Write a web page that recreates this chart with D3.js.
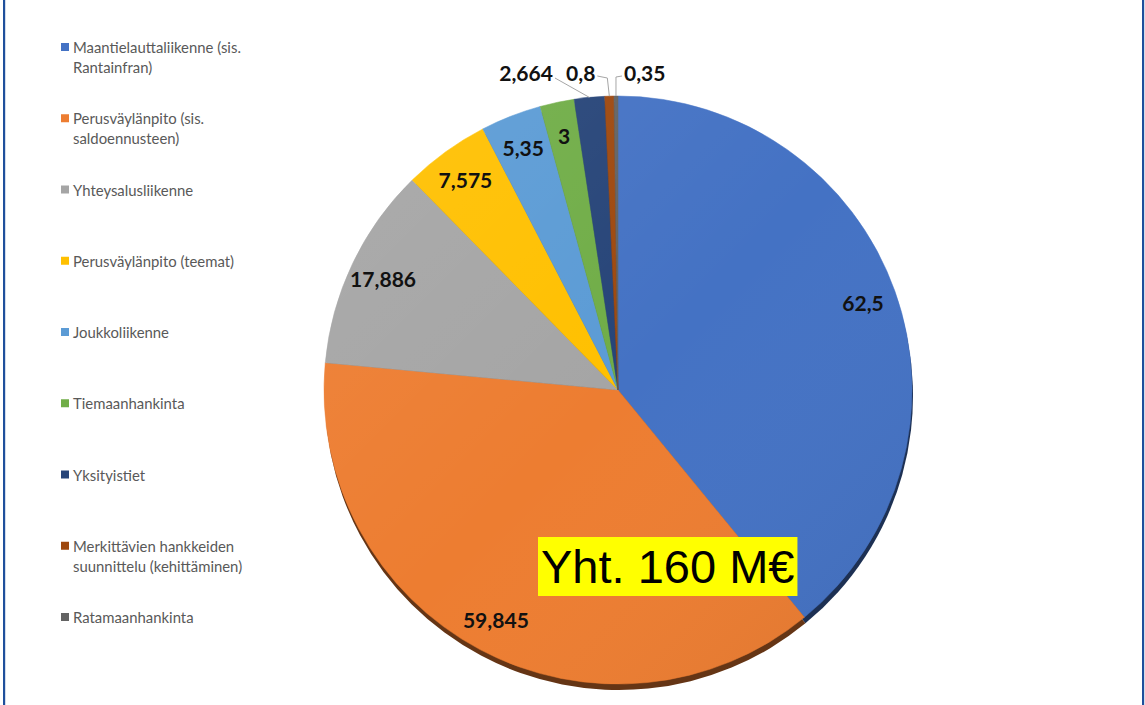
<!DOCTYPE html>
<html><head><meta charset="utf-8">
<script src="https://cdn.jsdelivr.net/npm/d3@7"></script>
<style>html,body{margin:0;padding:0;background:#fff;} svg{display:block}</style>
</head><body><svg id="chart" width="1145" height="705"></svg>
<script>
// ---- data ----
const categories = [
  "Maantielauttaliikenne (sis. Rantainfran)",
  "Perusväylänpito (sis. saldoennusteen)",
  "Yhteysalusliikenne",
  "Perusväylänpito (teemat)",
  "Joukkoliikenne",
  "Tiemaanhankinta",
  "Yksityistiet",
  "Merkittävien hankkeiden suunnittelu (kehittäminen)",
  "Ratamaanhankinta"
];
const values = [62.5, 59.845, 17.886, 7.575, 5.35, 3, 2.664, 0.8, 0.35];
const colors = ["#4472C4","#ED7D31","#A5A5A5","#FFC000","#5B9BD5","#70AD47","#264478","#9E480E","#636363"];
const totalLabel = "Yht. 160 M€";

// ---- layout ----
const W = 1145, H = 705;
const cx = 618, cy = 390, R = 294;
const svg = d3.select("#chart");
const fmt = v => String(v).replace(".", ",");
const data = categories.map((c, i) => ({name: c, value: values[i], color: colors[i]}));

// frame lines
svg.append("rect").attr("x", 3).attr("y", 0).attr("width", 2.2).attr("height", H).attr("fill", "#1f4f9c");
svg.append("rect").attr("x", 1142).attr("y", 0).attr("width", 2.2).attr("height", H).attr("fill", "#1f4f9c");

const defs = svg.append("defs");
const grad = defs.append("linearGradient").attr("id", "shade")
  .attr("x1", "0").attr("y1", "0").attr("x2", "1").attr("y2", "1");
grad.append("stop").attr("offset", "0").attr("stop-color", "#fff").attr("stop-opacity", 0.08);
grad.append("stop").attr("offset", "0.5").attr("stop-color", "#fff").attr("stop-opacity", 0);
grad.append("stop").attr("offset", "1").attr("stop-color", "#000").attr("stop-opacity", 0.07);

const pie = d3.pie().sort(null).value(d => d.value);
const arcs = pie(data);
const arc = d3.arc().innerRadius(0).outerRadius(R);

// shadow
svg.append("g").attr("transform", `translate(${cx + 1},${cy + 6})`)
  .selectAll("path").data(arcs).join("path")
  .attr("d", arc)
  .attr("fill", d => d3.color(d.data.color).darker(2.4));

// slices
const gPie = svg.append("g").attr("transform", `translate(${cx},${cy})`);
gPie.selectAll("path.slice").data(arcs).join("path")
  .attr("class", "slice")
  .attr("d", arc)
  .attr("fill", d => d.data.color)
  .attr("stroke", d => d.data.color).attr("stroke-width", 0.5);
gPie.append("circle").attr("r", R).attr("fill", "url(#shade)");

// labels
const labelFont = "Lato, 'Open Sans', sans-serif";
const probe = svg.append("text").attr("font-family", labelFont).attr("font-weight", "bold")
  .attr("font-size", 20).text("17,886");
const labelSize = 20 * 66 / probe.node().getComputedTextLength();
probe.remove();

const insideArcs = arcs.filter(d => d.endAngle - d.startAngle >= 0.11);
const outsideArcs = arcs.filter(d => d.endAngle - d.startAngle < 0.11);
const labelArc = d3.arc().innerRadius(R * 0.885).outerRadius(R * 0.885);

gPie.selectAll("text.in").data(insideArcs).join("text")
  .attr("class", "in")
  .attr("x", d => labelArc.centroid(d)[0])
  .attr("y", d => labelArc.centroid(d)[1])
  .attr("text-anchor", "middle").attr("dominant-baseline", "central")
  .attr("font-family", labelFont).attr("font-weight", "bold")
  .attr("font-size", labelSize).attr("fill", "#111")
  .text(d => fmt(d.data.value));

// outside labels: last one right of its slice, the others stacked leftwards
const edgeArc = d3.arc().innerRadius(R).outerRadius(R);
const oy = -R - 24;
let leftEdge = null;
const outside = outsideArcs.slice().reverse(); // right to left
outside.forEach((d, k) => {
  const p = edgeArc.centroid(d);
  const t = gPie.append("text")
    .attr("y", oy).attr("dominant-baseline", "central")
    .attr("font-family", labelFont).attr("font-weight", "bold")
    .attr("font-size", labelSize).attr("fill", "#111")
    .text(fmt(d.data.value));
  const w = t.node().getComputedTextLength();
  let pts;
  if (k === 0) {
    const x0 = p[0] + 8;
    t.attr("x", x0).attr("text-anchor", "start");
    pts = [[x0 - 2, oy + 4], [p[0], oy + 5], [p[0], p[1]]];
    leftEdge = x0 - 3;
  } else {
    let xe = Math.min(p[0] - 14, leftEdge - 13);
    t.attr("x", xe).attr("text-anchor", "end");
    pts = [[xe + 2, oy + 4], [p[0] - 2, oy + 6], [p[0], p[1]]];
    if (k > 1) pts = [[xe + 2, oy + 6], [p[0], p[1]]];
    leftEdge = xe - w;
  }
  gPie.append("polyline").attr("points", pts.map(q => q.join(",")).join(" "))
    .attr("fill", "none").attr("stroke", "#a6a6a6").attr("stroke-width", 1);
});

// legend
const legendFont = "Lato, 'Open Sans', sans-serif";
const probe2 = svg.append("text").attr("font-family", legendFont).attr("font-size", 13)
  .text("Maantielauttaliikenne (sis.");
const legendSize = 13 * 168 / probe2.node().getComputedTextLength();
probe2.remove();

const legend = svg.append("g");
const rowStep = 71.25, firstY = 47, maxW = 178;
data.forEach((d, i) => {
  const y = firstY + i * rowStep;
  legend.append("rect").attr("x", 61).attr("y", y - 4).attr("width", 8).attr("height", 8).attr("fill", d.color);
  const t = legend.append("text").attr("font-family", legendFont).attr("font-size", legendSize)
    .attr("fill", "#595959").attr("dominant-baseline", "central");
  const words = d.name.split(" ");
  let line = [], lineNo = 0;
  let ts = t.append("tspan").attr("x", 73).attr("y", y);
  words.forEach(wd => {
    line.push(wd);
    ts.text(line.join(" "));
    if (ts.node().getComputedTextLength() > maxW && line.length > 1) {
      line.pop(); ts.text(line.join(" "));
      line = [wd]; lineNo++;
      ts = t.append("tspan").attr("x", 73).attr("y", y + lineNo * 20).text(wd);
    }
  });
});

// total annotation
const gTot = svg.append("g");
const box = gTot.append("rect").attr("fill", "#ffff00");
const tt = gTot.append("text").attr("x", 541).attr("y", 583)
  .attr("font-family", "'Liberation Sans', Arial, sans-serif").attr("font-size", 47)
  .attr("fill", "#000").text(totalLabel);
const bb = tt.node().getBBox();
box.attr("x", bb.x - 3).attr("y", 537).attr("width", bb.width + 6).attr("height", 59);
</script></body></html>
